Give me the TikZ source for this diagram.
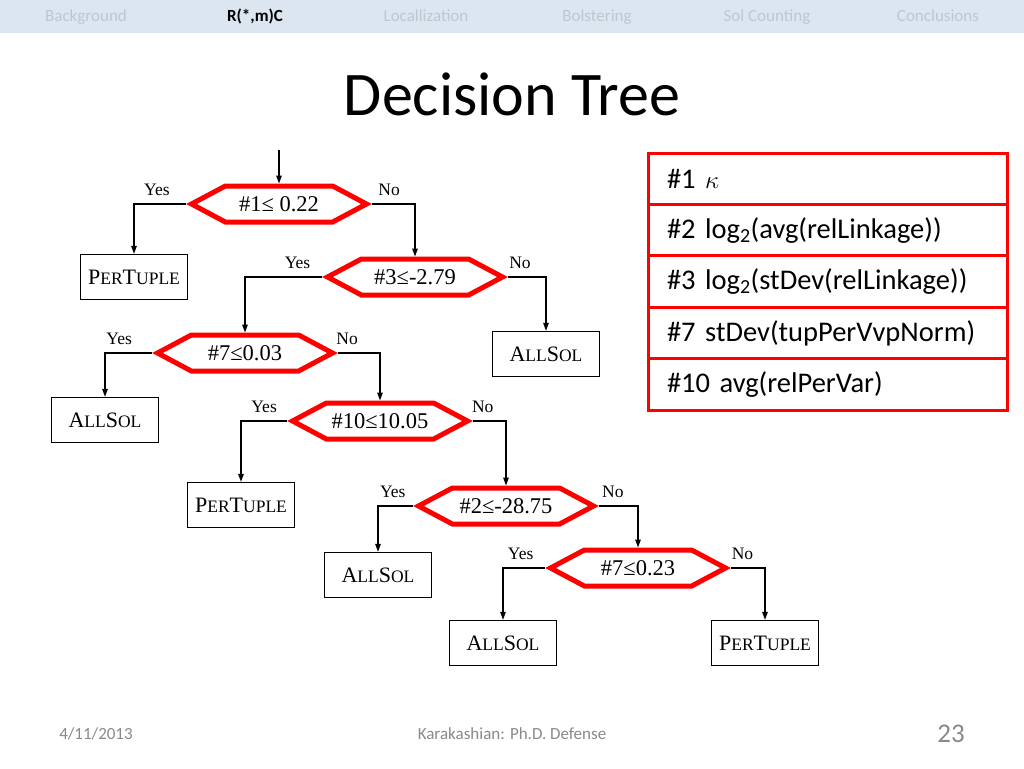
\documentclass[tikz,border=0pt]{standalone}
\usepackage{fontspec}
\setmainfont{Carlito}
\newfontfamily\treefont{Liberation Serif}
\usepackage{tikz}
\usetikzlibrary{arrows.meta,positioning,shapes.symbols}

\definecolor{navbg}{RGB}{220,230,241}
\definecolor{navtxt}{RGB}{190,198,208}
\definecolor{foottxt}{RGB}{137,137,137}
\newcommand{\lowcaps}[1]{{\fontsize{17.5}{18}\selectfont #1}}

\begin{document}
\begin{tikzpicture}[x=1pt,y=-1pt,>={Triangle[length=8pt,width=5.5pt]}]
  \useasboundingbox (0,0) rectangle (1024,768);
  \fill[navbg] (0,0) rectangle (1024,33);
  \node[anchor=base,text=navtxt,font=\fontsize{17}{18}\selectfont] (nav1) at (86,22) {Background};
  \node[anchor=base,font=\bfseries\fontsize{17}{18}\selectfont] (nav2) at (255,22) {R(*,m)C};
  \node[anchor=base,text=navtxt,font=\fontsize{17}{18}\selectfont] (nav3) at (426,22) {Locallization};
  \node[anchor=base,text=navtxt,font=\fontsize{17}{18}\selectfont] (nav4) at (597,22) {Bolstering};
  \node[anchor=base,text=navtxt,font=\fontsize{17}{18}\selectfont] (nav5) at (767,22) {Sol Counting};
  \node[anchor=base,text=navtxt,font=\fontsize{17}{18}\selectfont] (nav6) at (938,22) {Conclusions};
  \node[anchor=base,font=\fontsize{62}{64}\selectfont] (title) at (512,115) {Decision Tree};

  % tests
  \tikzset{test/.style={signal,signal to=west and east,signal pointer angle=56,draw=red,line width=5pt,
      outer xsep=0pt,outer ysep=2.5pt,minimum width=175pt,minimum height=36pt,inner sep=1pt,
      font=\treefont\fontsize{22.5}{24}\selectfont},
    leaf/.style={draw,line width=1.3pt,minimum width=107pt,minimum height=45pt,inner sep=1pt,
      font=\treefont\fontsize{22}{24}\selectfont},
    lab/.style={anchor=base,yshift=8.5pt,inner sep=0pt,font=\treefont\fontsize{17.5}{18}\selectfont},
    link/.style={->,line width=1.3pt}}
  \node[test] (c1) at (279,204) {\#1≤ 0.22};
  \node[test] (c3) at (415,277) {\#3≤-2.79};
  \node[test] (c7a) at (245,353) {\#7≤0.03};
  \node[test] (c10) at (380,421) {\#10≤10.05};
  \node[test] (c2) at (506,506) {\#2≤-28.75};
  \node[test] (c7b) at (638,568) {\#7≤0.23};

  % leaves
  \node[leaf] (pertA) at (134,277) {P\lowcaps{ER}T\lowcaps{UPLE}};
  \node[leaf] (allA) at (546,354) {A\lowcaps{LL}S\lowcaps{OL}};
  \node[leaf] (allB) at (105,420) {A\lowcaps{LL}S\lowcaps{OL}};
  \node[leaf] (pertB) at (241,505) {P\lowcaps{ER}T\lowcaps{UPLE}};
  \node[leaf] (allC) at (378,575) {A\lowcaps{LL}S\lowcaps{OL}};
  \node[leaf] (allD) at (503,643) {A\lowcaps{LL}S\lowcaps{OL}};
  \node[leaf] (pertC) at (765,643) {P\lowcaps{ER}T\lowcaps{UPLE}};

  \coordinate (root) at (279,150);
  \draw[link] (root) -- (c1.north);
  \draw[link] (c1.west) -| node[lab,pos=.28] {Yes} (pertA.north);
  \draw[link] (c1.east) -| node[lab,pos=.20] {No} (c3.north);
  \draw[link] (c3.west) -| node[lab,pos=.16] {Yes} (c7a.north);
  \draw[link] (c3.east) -| node[lab,pos=.16] {No} (allA.north);
  \draw[link] (c7a.west) -| node[lab,pos=.35] {Yes} (allB.north);
  \draw[link] (c7a.east) -| node[lab,pos=.11] {No} (c10.north);
  \draw[link] (c10.west) -| node[lab,pos=.25] {Yes} (pertB.north);
  \draw[link] (c10.east) -| node[lab,pos=.15] {No} (c2.north);
  \draw[link] (c2.west) -| node[lab,pos=.29] {Yes} (allC.north);
  \draw[link] (c2.east) -| node[lab,pos=.18] {No} (c7b.north);
  \draw[link] (c7b.west) -| node[lab,pos=.29] {Yes} (allD.north);
  \draw[link] (c7b.east) -| node[lab,pos=.17] {No} (pertC.north);

  % feature legend
  \tikzset{feat/.style={draw=red,line width=3pt,outer sep=0pt,minimum width=359pt,minimum height=51.4pt,
      inner xsep=19pt,text width=321pt,align=left,font=\fontsize{28.5}{30}\selectfont}}
  \node[feat,anchor=north west] (f1) at (648,153) {\#1 $\kappa$};
  \node[feat,below=0pt of f1] (f2) {\#2 log\textsubscript{2}(avg(relLinkage))};
  \node[feat,below=0pt of f2] (f3) {\#3 log\textsubscript{2}(stDev(relLinkage))};
  \node[feat,below=0pt of f3] (f7) {\#7 stDev(tupPerVvpNorm)};
  \node[feat,below=0pt of f7] (f10) {\#10 avg(relPerVar)};

  \node[anchor=base,text=foottxt,font=\fontsize{17}{18}\selectfont] (date) at (96,739) {4/11/2013};
  \node[anchor=base,text=foottxt,font=\fontsize{17}{18}\selectfont] (talk) at (512,739) {Karakashian: Ph.D. Defense};
  \node[anchor=base,text=foottxt,font=\fontsize{27}{28}\selectfont] (page) at (951,742) {23};
\end{tikzpicture}
\end{document}
